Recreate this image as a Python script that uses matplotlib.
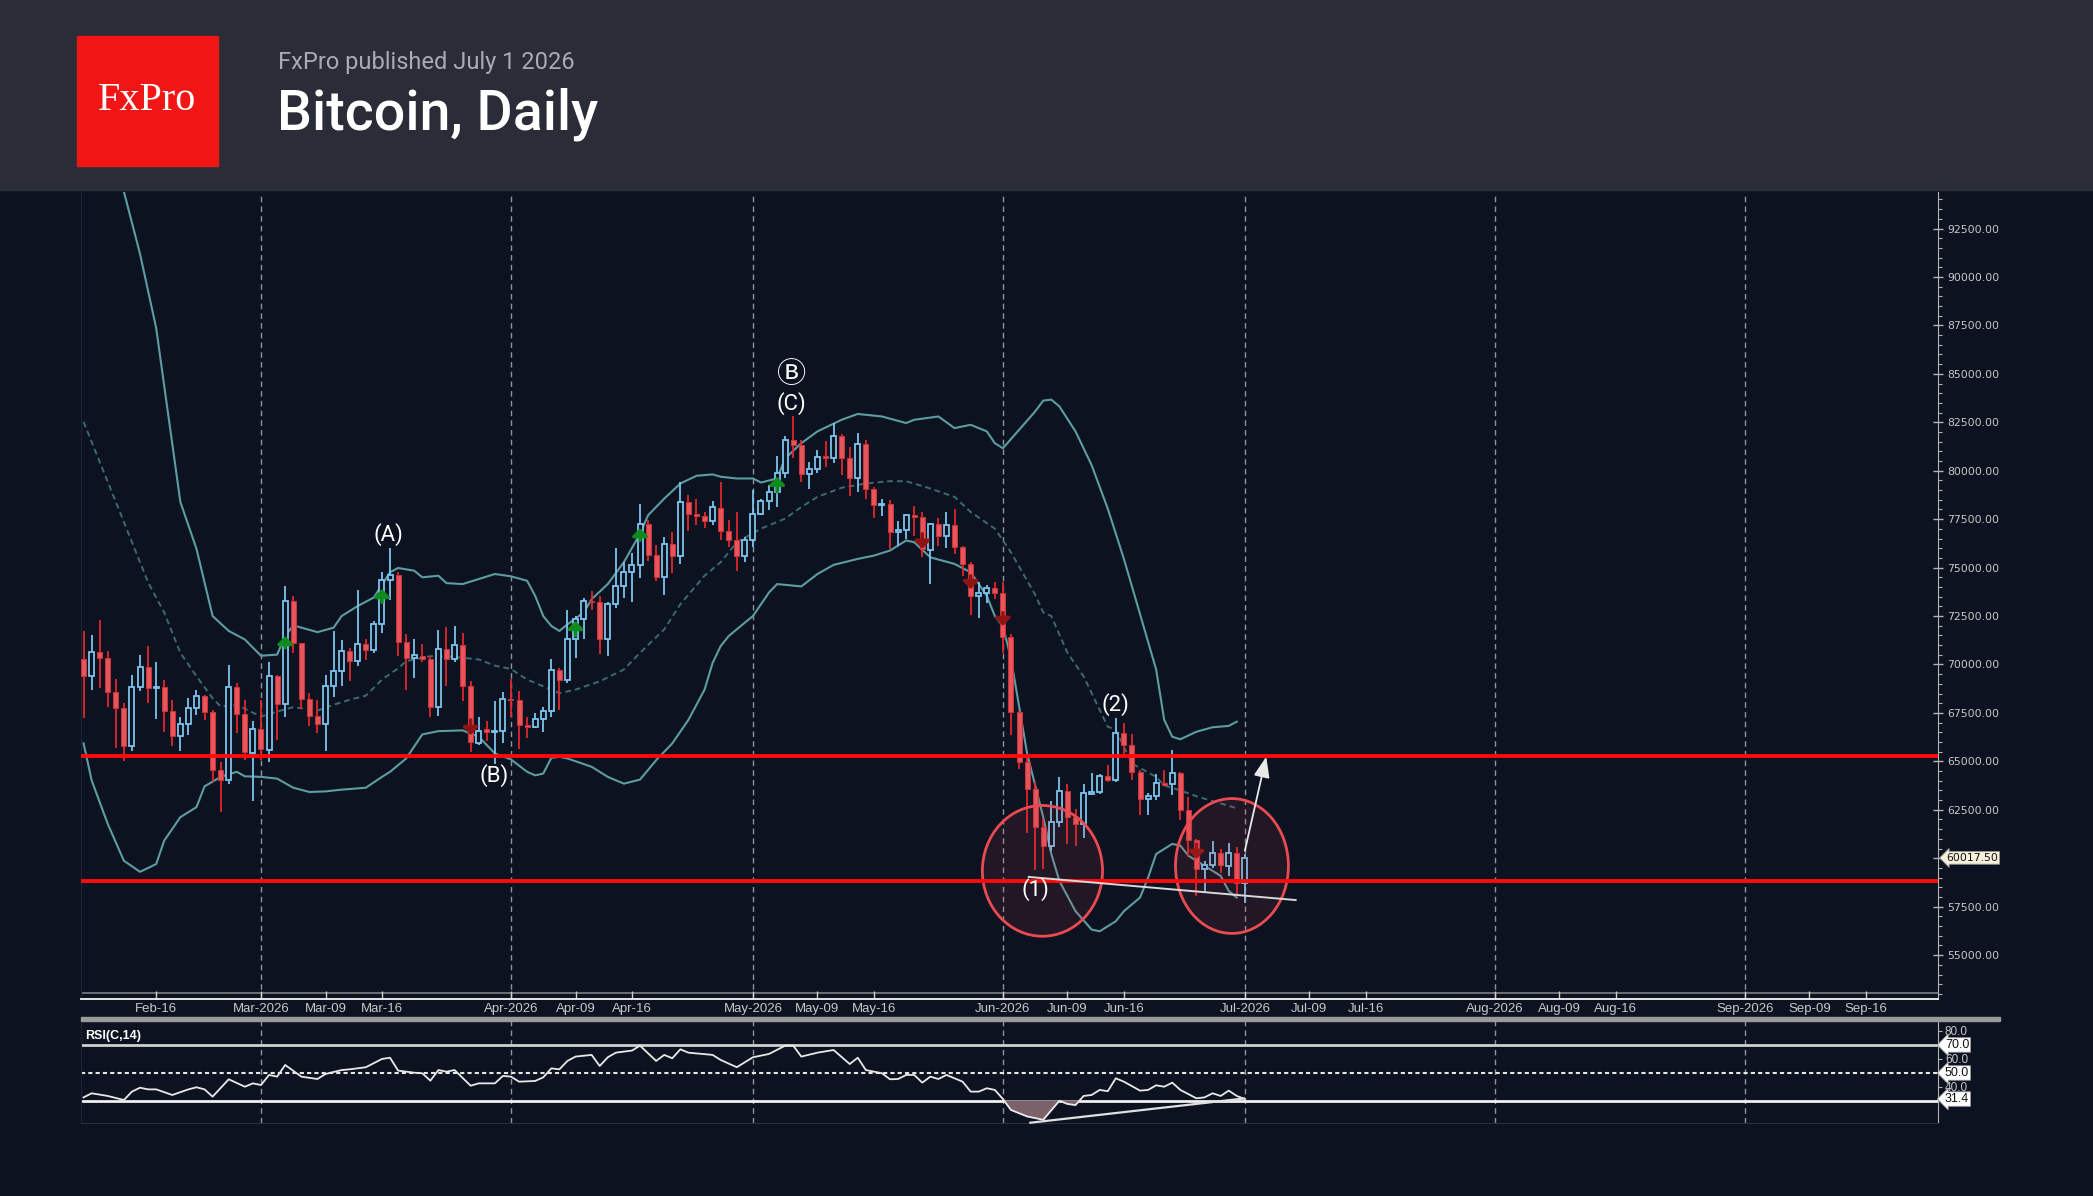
import numpy as np
import pandas as pd
import matplotlib
matplotlib.use("Agg")
import matplotlib.pyplot as plt
import matplotlib.dates as mdates
from matplotlib.patches import Rectangle, Ellipse
from matplotlib.ticker import MultipleLocator, FixedLocator, FuncFormatter

# ---- daily candles, Feb 7 .. Jul 1 2026 ----
dates = pd.date_range("2026-02-07", "2026-07-01", freq="D")
opens = [70290, 69420, 70640, 70340, 68580, 67740, 65810, 68840, 69860, 68770,
         68840, 67620, 66310, 66910, 67740, 68350, 67570, 64540, 64020, 68840,
         67450, 65440, 66650, 65580, 69390, 67970, 73280, 71090, 68230, 67360,
         66930, 68900, 69680, 70690, 70200, 71070, 70740, 72070, 74370, 74630,
         71170, 70340, 70450, 70260, 67800, 70810, 70290, 71000, 68870, 65960,
         66650, 66530, 66590, 68230, 68160, 66880, 66760, 67190, 67620, 69740,
         69220, 71290, 72330, 73280, 73200, 71290, 73110, 74060, 74790, 75140,
         77270, 75670, 74500, 76230, 75620, 78390, 77790, 77660, 77400, 78100,
         76890, 76400, 75620, 76400, 77790, 78430, 78880, 79860, 81590, 81330,
         79830, 80090, 80760, 80680, 81770, 80640, 79650, 81370, 79080, 78220,
         78260, 76830, 76950, 77700, 77610, 75930, 77270, 76610, 77210, 76050,
         75190, 73540, 73670, 73940, 73680, 71430, 67570, 64980, 63590, 61600,
         60650, 61860, 63450, 62150, 61770, 63330, 63420, 64250, 64020, 66480,
         65840, 64460, 63040, 63210, 63900, 63850, 64420, 62470, 60940, 59440,
         59660, 60270, 59610, 60270, 58710]
highs = [71730, 71500, 72280, 70690, 69270, 68000, 69440, 70510, 70950, 70120,
         69220, 68180, 67310, 68260, 68660, 68440, 67660, 64980, 69960, 69040,
         68180, 67100, 68180, 70120, 69480, 74030, 73540, 71120, 68520, 68180,
         69480, 71730, 71240, 70830, 73860, 71290, 72250, 74760, 76000, 74760,
         71550, 71290, 71070, 70430, 71780, 71950, 71990, 71610, 69130, 67280,
         67090, 68140, 68560, 69270, 68610, 67310, 67490, 67830, 70290, 69820,
         72820, 72510, 73420, 73800, 73540, 73200, 76000, 75280, 75760, 78300,
         77440, 76180, 76570, 76830, 79430, 78770, 78560, 77870, 78440, 79430,
         77440, 77870, 76570, 79000, 78560, 79260, 80780, 81770, 82810, 81590,
         80470, 81070, 81540, 82460, 81890, 81250, 81970, 81590, 79170, 78530,
         78480, 77390, 77790, 78170, 77870, 77300, 77560, 77870, 78040, 76140,
         75280, 74240, 74120, 74240, 74240, 71550, 67600, 65320, 63940, 62030,
         62950, 64200, 63850, 62550, 63850, 64400, 64340, 64800, 67260, 66970,
         66410, 64540, 63370, 64370, 64540, 65580, 64460, 63160, 60990, 59870,
         60910, 60480, 60770, 60560, 60220]
lows = [67230, 68700, 68780, 67830, 65670, 65030, 65550, 68610, 68000, 67170,
        66530, 65790, 65550, 66360, 67400, 67140, 63940, 62380, 63820, 66450,
        65060, 62980, 65060, 64980, 66100, 67310, 70570, 67710, 66830, 66450,
        65550, 68320, 68870, 69130, 69910, 70250, 70600, 71640, 73320, 70430,
        68700, 69300, 70120, 67310, 67350, 68870, 70120, 68090, 65500, 65840,
        66070, 64890, 65930, 67310, 65620, 66190, 66710, 66530, 67310, 67660,
        69050, 70340, 71330, 72820, 70520, 70430, 72940, 73410, 73200, 74460,
        75360, 74320, 73600, 74700, 75190, 76870, 77180, 77040, 77210, 76400,
        76050, 74840, 75280, 76050, 77700, 77960, 78130, 79600, 80680, 79430,
        79080, 79860, 80210, 80380, 79780, 78690, 78880, 78560, 77560, 77660,
        75970, 76110, 76490, 76630, 75530, 74150, 76090, 76020, 75710, 74580,
        72560, 72420, 73150, 73370, 70600, 66360, 64630, 61300, 59400, 59440,
        60390, 61600, 60740, 60650, 61050, 63250, 63330, 63940, 63940, 65240,
        64020, 62210, 62210, 62990, 63710, 63250, 61950, 60040, 58050, 58230,
        59520, 59260, 59090, 58140, 57710]
closes = [69420, 70640, 70340, 68580, 67740, 65810, 68840, 69860, 68780, 68840,
          67620, 66310, 66910, 67740, 68350, 67570, 64540, 64020, 68840, 67450,
          65460, 66650, 65620, 69390, 67970, 73280, 71090, 68230, 67360, 66930,
          68900, 69680, 70690, 70200, 71070, 70740, 72070, 74370, 74630, 71170,
          70340, 70480, 70260, 67830, 70810, 70290, 71000, 68870, 66010, 66590,
          66530, 66590, 68210, 68160, 66880, 66760, 67190, 67620, 69740, 69220,
          71290, 72330, 73280, 73200, 71290, 73110, 74060, 74790, 75140, 77270,
          75670, 74500, 76230, 75620, 78390, 77790, 77660, 77400, 78130, 76890,
          76400, 75620, 76400, 77790, 78430, 78880, 79860, 81590, 81330, 79830,
          80090, 80730, 80680, 81770, 80640, 79650, 81370, 79080, 78220, 78260,
          76830, 76950, 77700, 77610, 75970, 77270, 76610, 77210, 76050, 75190,
          73540, 73670, 73940, 73680, 71430, 67570, 64980, 63590, 61600, 60650,
          61860, 63450, 62150, 61770, 63370, 63420, 64250, 64020, 66480, 65840,
          64460, 63070, 63210, 63900, 63800, 64420, 62470, 60940, 59440, 59660,
          60270, 59660, 60270, 58710, 60017.5]
last_price = 60017.5

# ---- Bollinger bands (days counted from 2026-03-01) ----
upper_days = [-17, -15, -13, -10, -8, -6, -4, -2, 0, 2, 3, 4, 7, 9, 10, 12, 14, 16, 17, 19,
              20, 22, 23, 25, 27, 29, 31, 33, 34, 35, 36, 37, 38, 40, 41, 43, 45, 47, 48,
              50, 52, 54, 56, 57, 59, 61, 62, 64, 65, 67, 69, 72, 74, 77, 80, 81, 84, 86,
              88, 90, 91, 92, 94, 96, 97, 98, 99, 101, 103, 105, 107, 109, 111, 112, 113,
              114, 116, 118, 120, 121]
upper_vals = [94400, 91190, 87370, 78390, 75970, 72500, 71730, 71290, 70450, 70510,
              71470, 72020, 71670, 71900, 72500, 73020, 73460, 74760, 74980, 74840,
              74500, 74580, 74200, 74150, 74410, 74670, 74550, 74320, 73540, 72500,
              71990, 71730, 72070, 72680, 73370, 74150, 75280, 76750, 77700, 78560,
              79340, 79740, 79810, 79690, 79600, 79600, 79390, 79600, 80640, 81420,
              82030, 82630, 82930, 82800, 82460, 82630, 82800, 82200, 82370, 82030,
              81420, 81160, 82110, 83060, 83620, 83670, 83320, 82030, 80290, 78040,
              75450, 72600, 69740, 67140, 66270, 66140, 66530, 66760, 66830, 67050]
mid_days = [-22, -18, -16, -14, -12, -10, -8, -6, -5, -3, 0, 2, 4, 7, 9, 11, 13, 15, 17,
            18, 21, 24, 27, 29, 31, 33, 36, 37, 39, 42, 45, 47, 50, 52, 55, 57, 59, 62,
            65, 67, 69, 72, 75, 78, 80, 83, 86, 88, 91, 93, 96, 97, 98, 100, 102, 105,
            106, 108, 111, 112, 114, 116, 121]
mid_vals = [82520, 78390, 76310, 74240, 72680, 70600, 69390, 68260, 67830, 67920,
            67310, 67570, 67800, 67620, 67920, 68180, 68390, 69220, 69800, 70170,
            70430, 70390, 70260, 69940, 69770, 69220, 68700, 68520, 68700, 69130,
            69740, 70600, 71810, 73110, 74580, 75280, 76310, 77010, 77530, 78130,
            78650, 79120, 79340, 79460, 79460, 79080, 78650, 77870, 77010, 75790,
            73600, 72680, 72500, 70600, 69390, 66790, 66620, 64890, 64200, 63760,
            63500, 63200, 62580]
lower_days = [-22, -21, -19, -17, -15, -13, -12, -10, -8, -7, -5, -3, -2, 0, 2, 4, 6, 8,
              10, 13, 15, 16, 18, 20, 22, 25, 27, 29, 31, 33, 34, 35, 36, 37, 38, 41, 43,
              45, 47, 49, 51, 53, 55, 56, 57, 58, 60, 61, 63, 64, 67, 69, 71, 74, 76, 78,
              80, 81, 83, 86, 88, 90, 91, 92, 93, 95, 97, 98, 99, 101, 103, 104, 106,
              107, 109, 110, 111, 113, 114, 115, 117, 119, 120, 121]
lower_vals = [65930, 64020, 61770, 59870, 59300, 59700, 60910, 62120, 62640, 63710,
              64200, 64460, 64230, 64200, 64110, 63640, 63420, 63450, 63540, 63640,
              64200, 64460, 65150, 66390, 66560, 66600, 66270, 65410, 65100, 64460,
              64280, 64370, 65180, 65235, 65150, 64720, 64200, 63850, 64060, 65060,
              65930, 67140, 68700, 70080, 70950, 71470, 72160, 72500, 73720, 74150,
              74030, 74670, 75140, 75450, 75620, 75880, 76400, 76310, 75530, 75190,
              74760, 73540, 72500, 71990, 70300, 65410, 62120, 60220, 58830, 57270,
              56320, 56230, 56750, 57270, 57970, 59000, 60220, 60740, 60650, 60130,
              59610, 59090, 58310, 57970]

# ---- RSI(14) ----
rsi_days = [-22, -21, -19, -17, -16, -15, -14, -13, -11, -9, -8, -7, -6, -4, -2, -1, 0,
            1, 2, 3, 5, 7, 8, 10, 11, 13, 15, 16, 17, 19, 20, 21, 22, 23, 24, 26, 27, 29,
            30, 31, 32, 34, 35, 36, 37, 38, 39, 41, 42, 43, 44, 46, 47, 49, 50, 51, 52,
            53, 56, 57, 59, 61, 63, 65, 66, 67, 69, 71, 73, 74, 75, 77, 78, 79, 80, 81,
            82, 83, 84, 85, 87, 88, 89, 90, 91, 92, 93, 95, 97, 99, 100, 101, 102, 103,
            104, 105, 106, 107, 109, 110, 111, 112, 113, 114, 116, 117, 118, 119, 120,
            121, 122]
rsi_vals = [32.6, 35.5, 33.6, 30.7, 36.7, 39.5, 38.3, 38.3, 34.3, 38.3, 39.8, 38.3, 33.1,
            45.5, 40.2, 42.6, 41.4, 48.6, 47.4, 55.7, 47.4, 45.7, 49.3, 52.1, 52.6, 54.1,
            60.0, 60.9, 51.7, 50.2, 49.8, 44.5, 52.1, 50.9, 52.1, 40.9, 42.6, 42.6, 47.9,
            47.4, 43.8, 44.3, 46.9, 53.3, 52.6, 58.6, 61.7, 62.9, 55.0, 61.2, 64.5, 66.0,
            69.5, 58.6, 62.9, 60.5, 66.9, 64.5, 62.9, 59.3, 54.1, 61.2, 63.6, 69.5, 69.5,
            61.7, 64.5, 66.4, 56.4, 60.9, 52.1, 49.8, 45.5, 45.7, 48.6, 48.6, 43.1, 47.4,
            45.7, 48.6, 43.8, 36.7, 36.7, 39.1, 37.9, 31.4, 23.6, 19.0, 16.6, 30.2, 27.9,
            27.1, 33.6, 34.3, 37.9, 37.0, 46.2, 43.8, 37.4, 37.9, 41.2, 40.2, 43.1, 37.9,
            31.9, 32.6, 35.5, 33.6, 37.4, 33.6, 31.4]
rsi_last = 31.4

# ---- levels and annotations ----
resistance = 65280
support = 58850
up_signals = [(3, 70860, 71470), (15, 73200, 73900), (39, 71470, 72250),
              (47, 76400, 77040), (64, 78910, 79690)]
down_signals = [(26, 67140, 66360), (82, 76750, 75970), (88, 74580, 73890),
                (92, 72680, 71990), (116, 60740, 59960)]
wave_labels = [("(A)", 15.8, 76700), ("(B)", 28.9, 64290), ("(C)", 65.8, 83490),
               ("(2)", 105.9, 67960), ("(1)", 96.0, 58400)]
circled_label = ("\u24b7", 65.8, 84950)
circles = [(96.9, 59350, 14.9, 6750), (120.4, 59600, 14.0, 6960)]
price_trend = [(95.2, 59036), (128.3, 57842)]
target_arrow = [(122.0, 60390), (124.65, 65240)]
rsi_trend = [(95.4, 14.5), (121.9, 31.8)]

# ---- styling ----
W, H = 2093, 1196
BG = "#0c1220"
HEADER = "#2a2c37"
BLUE = "#7cc4ee"
RED = "#e6565c"
RED_WICK = "#e0262c"
BAND = "#5d9ca2"
MID = "#3d6a70"
TXT = "#c8c8c8"
NARROW = ["Liberation Sans Narrow", "Liberation Sans", "DejaVu Sans"]
LABEL_FONT = ["Roboto", "Noto Sans CJK SC", "DejaVu Sans"]

base = mdates.date2num(pd.Timestamp("2026-03-01"))
x = mdates.date2num(dates)
o, h, l, c = map(np.array, (opens, highs, lows, closes))
up = c >= o

fig = plt.figure(figsize=(W / 100, H / 100), dpi=100, facecolor=BG)

# header strip and logo
fig.patches.append(Rectangle((0, 1 - 190 / H), 1, 190 / H, transform=fig.transFigure,
                             color=HEADER, zorder=0))
fig.patches.append(Rectangle((77 / W, 1 - 166 / H), 141 / W, 130 / H,
                             transform=fig.transFigure, color="#f21515", zorder=1))
fig.text(147.5 / W, 1 - 100 / H, "FxPro", family="Liberation Serif", fontsize=29,
         color="white", ha="center", va="center")
fig.text(278 / W, 1 - 63 / H, "FxPro published July 1 2026", family="Roboto",
         fontsize=17, color="#a9aab2", ha="left", va="center")
fig.text(277 / W, 1 - 114 / H, "Bitcoin, Daily", family="Roboto", fontweight="medium",
         fontsize=40, color="white", ha="left", va="center")

ax = fig.add_axes([81 / W, 1 - 999 / H, (1938 - 81) / W, (999 - 192) / H])
rax = fig.add_axes([81 / W, 1 - 1123 / H, (1938 - 81) / W, (1123 - 1021) / H], sharex=ax)
for a in (ax, rax):
    a.set_facecolor(BG)
    a.spines["top"].set_visible(False)
    a.spines["left"].set_color("#1c2433")

ax.set_xlim(base - 22.32, base + 207.95)
ax.set_ylim(52736, 94385)

# month separators
for m in range(3, 10):
    mx = mdates.date2num(pd.Timestamp(2026, m, 1))
    for a in (ax, rax):
        a.axvline(mx, color="#8d929b", lw=1, ls=(0, (4, 3)), zorder=1)

# bands
ax.plot(base + np.array(upper_days), upper_vals, color=BAND, lw=1.5, zorder=2)
ax.plot(base + np.array(lower_days), lower_vals, color=BAND, lw=1.5, zorder=2)
ax.plot(base + np.array(mid_days), mid_vals, color=MID, lw=1.4, ls=(0, (3, 2)), zorder=2)

# candles
ax.vlines(x[up], l[up], h[up], color=BLUE, lw=1.3, zorder=3)
ax.vlines(x[~up], l[~up], h[~up], color=RED_WICK, lw=1.3, zorder=3)
ax.bar(x[up], np.maximum(c[up] - o[up], 20), bottom=o[up], width=0.62, facecolor=BG,
       edgecolor=BLUE, lw=1.3, zorder=4)
ax.bar(x[~up], np.maximum(o[~up] - c[~up], 20), bottom=c[~up], width=0.62, facecolor=RED,
       edgecolor="#c8343a", lw=0.8, zorder=4)

# signal arrows
for d, p0, p1 in up_signals:
    ax.annotate("", xy=(base + d, p1), xytext=(base + d, p0), zorder=5,
                arrowprops=dict(arrowstyle="-|>,head_width=0.45,head_length=0.45",
                                color="#0f8a1c", lw=2.4, mutation_scale=10, shrinkA=0, shrinkB=0))
for d, p0, p1 in down_signals:
    ax.annotate("", xy=(base + d, p1), xytext=(base + d, p0), zorder=5,
                arrowprops=dict(arrowstyle="-|>,head_width=0.45,head_length=0.45",
                                color="#8e1414", lw=2.4, mutation_scale=10, shrinkA=0, shrinkB=0))

# horizontal levels
ax.axhline(resistance, color="#ff0a0a", lw=2.8, zorder=6)
ax.axhline(support, color="#ff0a0a", lw=2.8, zorder=6)

# circles, trend line, arrow
for cd, cp, cw, ch in circles:
    ax.add_patch(Ellipse((base + cd, cp), cw, ch, facecolor=(0.85, 0.25, 0.32, 0.11),
                         edgecolor="#ea4a52", lw=2, zorder=5))
ax.plot([base + price_trend[0][0], base + price_trend[1][0]],
        [price_trend[0][1], price_trend[1][1]], color="#d9d9d9", lw=1.4, zorder=7)
ax.annotate("", xy=(base + target_arrow[1][0], target_arrow[1][1]),
            xytext=(base + target_arrow[0][0], target_arrow[0][1]), zorder=8,
            arrowprops=dict(arrowstyle="-|>,head_width=0.35,head_length=0.9",
                            color="#e8e8e8", lw=1.3, mutation_scale=14, shrinkA=0, shrinkB=0))

for t, d, p in wave_labels:
    ax.text(base + d, p, t, color="white", fontsize=16, ha="center", va="center",
            family=LABEL_FONT, zorder=8)
ax.text(base + circled_label[1], circled_label[2], circled_label[0], color="white",
        fontsize=21, ha="center", va="center", family=LABEL_FONT, zorder=8)

# price axis
ax.yaxis.tick_right()
ax.yaxis.set_major_locator(MultipleLocator(2500))
ax.yaxis.set_minor_locator(MultipleLocator(500))
ax.yaxis.set_major_formatter(FuncFormatter(lambda v, _: f"{v:.2f}"))
ax.tick_params(axis="y", which="major", direction="inout", length=7, width=1,
               color="#b4b4b4", labelcolor=TXT, labelsize=7.8, pad=3)
ax.tick_params(axis="y", which="minor", direction="out", length=3, width=0.8, color="#b4b4b4")
ax.spines["right"].set_color("#b4b4b4")
ax.annotate(f"{last_price:.2f}", xy=(1.0, last_price), xycoords=("axes fraction", "data"),
            xytext=(6, 0), textcoords="offset points", ha="left", va="center",
            fontsize=7.8, color="#111111", zorder=10, annotation_clip=False,
            bbox=dict(boxstyle="larrow,pad=0.12", fc="#f4f0da", ec="#9a9a9a", lw=0.6))

# date axis
tick_dates = [pd.Timestamp("2026-02-16")]
tick_labels = ["Feb-16"]
for m in range(3, 10):
    for day in (1, 9, 16):
        ts = pd.Timestamp(2026, m, day)
        tick_dates.append(ts)
        tick_labels.append(ts.strftime("%b-%Y") if day == 1 else ts.strftime("%b-%d"))
ax.xaxis.set_major_locator(FixedLocator(mdates.date2num(tick_dates)))
ax.set_xticklabels(tick_labels, family=NARROW, fontsize=9.5, color=TXT)
ax.tick_params(axis="x", direction="in", length=6, width=1, color="#d0d0d0", pad=3)
ax.spines["bottom"].set_color("#e6e6e6")
ax.spines["bottom"].set_linewidth(1.4)
ax.axhline(52736 + (94385 - 52736) * 6 / 807, color="#6d6f74", lw=1.4, zorder=1)

# separator bar between panels
fig.patches.append(Rectangle((81 / W, 1 - 1021 / H), (2000 - 81) / W, 4 / H,
                             transform=fig.transFigure, color="#9a9a9a", zorder=3))

# RSI panel
rx = base + np.array(rsi_days)
rv = np.array(rsi_vals)
rax.set_ylim(14.3, 87.1)
rax.axhline(70, color="#cfcfcf", lw=2, zorder=2)
rax.axhline(50, color="#e6e6e6", lw=1.5, ls=(0, (2, 1.5)), zorder=2)
rax.axhline(30, color="#f0f0f0", lw=2, zorder=2)
rax.fill_between(rx, rv, 30, where=rv < 30, interpolate=True, color="#7b6169", zorder=3)
rax.plot(rx, rv, color="#e8e8e8", lw=1.3, zorder=4)
rax.plot([base + rsi_trend[0][0], base + rsi_trend[1][0]],
         [rsi_trend[0][1], rsi_trend[1][1]], color="#e0e0e0", lw=1.6, zorder=5, clip_on=False)
rax.text(0.002, 0.85, "RSI(C,14)", transform=rax.transAxes, family=NARROW,
         fontweight="bold", fontsize=9, color="white", ha="left", va="center")
rax.yaxis.tick_right()
rax.yaxis.set_major_locator(FixedLocator([40, 60, 80]))
rax.yaxis.set_major_formatter(FuncFormatter(lambda v, _: f"{v:.1f}"))
rax.tick_params(axis="y", direction="out", length=3, color="#b4b4b4", labelcolor=TXT,
                labelsize=8.5, pad=2)
for lab in rax.get_yticklabels():
    lab.set_family(NARROW)
rax.tick_params(axis="x", which="both", bottom=False, labelbottom=False)
rax.spines["right"].set_color("#b4b4b4")
rax.spines["bottom"].set_color("#2a2f3a")
for val in (70.0, 50.0, rsi_last):
    rax.annotate(f"{val:.1f}", xy=(1.0, val), xycoords=("axes fraction", "data"),
                 xytext=(5, 0), textcoords="offset points", ha="left", va="center",
                 fontsize=9, family=NARROW, color="#111111", zorder=10,
                 annotation_clip=False,
                 bbox=dict(boxstyle="larrow,pad=0.1", fc="white", ec="#9a9a9a", lw=0.6))

fig.savefig("out.png", dpi=100, facecolor=BG)
